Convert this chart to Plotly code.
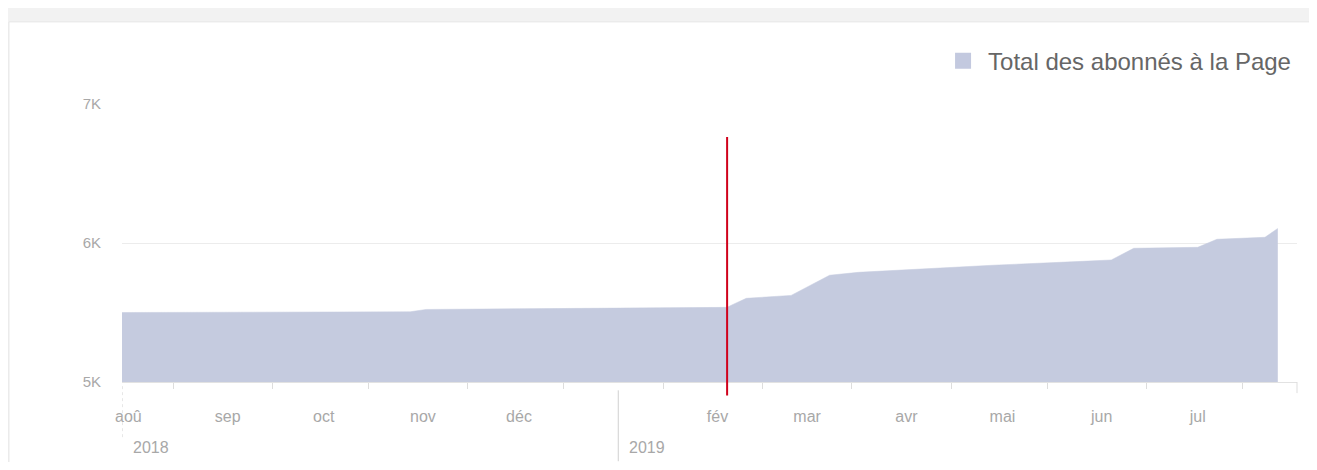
import plotly.graph_objects as go

# ---- data ----
dates = ["2018-07-30", "2018-10-28", "2018-11-02", "2018-12-20", "2019-02-04",
         "2019-02-06", "2019-02-10", "2019-02-24", "2019-03-08", "2019-03-17",
         "2019-04-28", "2019-05-26", "2019-06-04", "2019-06-11", "2019-07-01",
         "2019-07-07", "2019-07-22", "2019-07-26"]
followers = [5500, 5505, 5522, 5530, 5537,
             5560, 5602, 5623, 5768, 5789,
             5840, 5868, 5878, 5962, 5969,
             6027, 6041, 6105]

series_name = "Total des abonnés à la Page"
month_ticks = ["2018-08-01", "2018-09-01", "2018-10-01", "2018-11-01", "2018-12-01",
               "2019-02-01", "2019-03-01", "2019-04-01", "2019-05-01", "2019-06-01",
               "2019-07-01"]
month_labels = ["aoû", "sep", "oct", "nov", "déc", "fév", "mar", "avr", "mai", "jun", "jul"]
mid_month_ticks = ["2018-08-15", "2018-09-15", "2018-10-15", "2018-11-15", "2018-12-15",
                   "2019-01-15", "2019-02-15", "2019-03-15", "2019-04-15", "2019-05-15",
                   "2019-06-15", "2019-07-15"]
y_ticks = [5000, 6000, 7000]
y_labels = ["5K", "6K", "7K"]
years = ["2018", "2019"]
year_starts = ["2018-07-30", "2019-01-01"]
marker_date = "2019-02-04"
x_range = ["2018-07-30", "2019-08-01"]

FILL = "#c5cbdf"
FONT = "Liberation Sans, Arial, sans-serif"
TICK_GREY = "#a8a8a8"

fig = go.Figure()
fig.add_trace(go.Scatter(
    x=dates, y=followers, mode="lines", fill="tozeroy",
    line=dict(color=FILL, width=0.5), fillcolor=FILL,
    showlegend=False, hoverinfo="x+y"))
fig.add_trace(go.Scatter(
    x=[None], y=[None], mode="markers", name=series_name,
    marker=dict(symbol="square", size=20, color="#c3c9df")))

shapes = []
# white card on grey page
shapes.append(dict(type="rect", xref="paper", yref="paper",
                   x0=-0.0962, x1=1.05, y0=-0.35, y1=1.2955,
                   fillcolor="white", line=dict(color="#e6e6e6", width=1),
                   layer="below"))
# year separator lines
shapes.append(dict(type="line", xref="x", yref="paper",
                   x0=year_starts[0], x1=year_starts[0], y0=-0.015, y1=-0.205,
                   line=dict(color="#d0d0d0", width=1, dash="dot")))
shapes.append(dict(type="line", xref="x", yref="paper",
                   x0=year_starts[1], x1=year_starts[1], y0=-0.03, y1=-0.285,
                   line=dict(color="#d0d0d0", width=1)))
# end-of-axis tick
shapes.append(dict(type="line", xref="paper", yref="paper",
                   x0=1, x1=1, y0=0.0, y1=-0.04,
                   line=dict(color="#dddddd", width=1)))
# red marker line
shapes.append(dict(type="line", xref="x", yref="paper",
                   x0=marker_date, x1=marker_date, y0=-0.0486, y1=0.881,
                   line=dict(color="#d0021b", width=2)))

annotations = []
for yr, d in zip(years, year_starts):
    annotations.append(dict(x=d, y=-0.236, xref="x", yref="paper", text=yr,
                            showarrow=False, xanchor="left", yanchor="middle",
                            xshift=9, font=dict(family=FONT, size=16, color=TICK_GREY)))

fig.update_layout(
    width=1301, height=454,
    margin=dict(l=114, r=12, t=96, b=80, pad=0),
    paper_bgcolor="#f2f2f2", plot_bgcolor="white",
    font=dict(family=FONT, color="#999999"),
    shapes=shapes, annotations=annotations,
    legend=dict(x=0.9992, xanchor="right", y=1.235, yanchor="top",
                orientation="h", bgcolor="rgba(0,0,0,0)",
                font=dict(family=FONT, size=24, color="#666666"),
                itemwidth=40),
    xaxis=dict(type="date", range=x_range,
               tickmode="array", tickvals=month_ticks, ticktext=month_labels,
               ticks="", showgrid=False, zeroline=False,
               showline=True, linecolor="#e2e2e2", linewidth=1,
               ticklabelstandoff=20,
               tickfont=dict(family=FONT, size=16, color=TICK_GREY),
               minor=dict(tickmode="array", tickvals=mid_month_ticks,
                          ticks="outside", ticklen=6, tickcolor="#dddddd",
                          showgrid=False)),
    yaxis=dict(range=[5000, 7000], tickmode="array", tickvals=y_ticks,
               ticktext=y_labels, showgrid=True, gridcolor="#ececec",
               gridwidth=1, zeroline=False, showline=False, ticks="",
               ticklabelstandoff=20,
               tickfont=dict(family=FONT, size=15, color=TICK_GREY)),
)

fig.write_html("out.html")
